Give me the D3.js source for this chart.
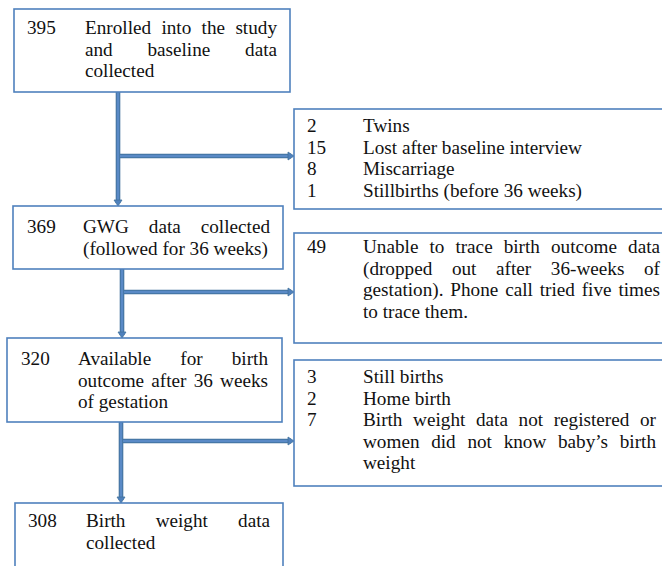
<!DOCTYPE html>
<html><head><meta charset="utf-8">
<script src="https://cdn.jsdelivr.net/npm/d3@7"></script>
<style>html,body{margin:0;padding:0;background:#fff;overflow:hidden}</style>
</head><body>
<svg id="c" width="662" height="566"></svg>
<script>
// ---- data ----
const mainCounts = [395, 369, 320, 308];
const mainLines = [
  ["Enrolled into the study", "and baseline data", "collected"],
  ["GWG data collected", "(followed for 36 weeks)"],
  ["Available for birth", "outcome after 36 weeks", "of gestation"],
  ["Birth weight data", "collected"]
];
const excl1Counts = [2, 15, 8, 1];
const excl1Labels = [["Twins"], ["Lost after baseline interview"], ["Miscarriage"], ["Stillbirths (before 36 weeks)"]];
const excl2Counts = [49];
const excl2Labels = [["Unable to trace birth outcome data", "(dropped out after 36-weeks of", "gestation). Phone call tried five times", "to trace them."]];
const excl3Counts = [3, 2, 7];
const excl3Labels = [["Still births"], ["Home birth"], ["Birth weight data not registered or", "women did not know baby\u2019s birth", "weight"]];

// ---- layout ----
const LH = 21.5;
const FONT = "'Liberation Serif','Times New Roman',serif";
const FS = 19.2;
const mainLayout = [
  {x: 14, y: 9, w: 276, h: 83, numX: 27, tx: 85, tr: 277, b0: 34},
  {x: 13, y: 206, w: 270, h: 63, numX: 27, tx: 83, tr: 270, b0: 233},
  {x: 7, y: 338, w: 275, h: 84, numX: 21, tx: 78, tr: 268, b0: 365},
  {x: 15, y: 503, w: 268, h: 90, numX: 28, tx: 86, tr: 270, b0: 527}
];
const sideLayout = [
  {x: 294, y: 109, w: 372, h: 100, numX: 307, tx: 363, tr: 660, b0: 132, counts: excl1Counts, labels: excl1Labels},
  {x: 294, y: 233, w: 372, h: 110, numX: 307, tx: 363, tr: 660, b0: 253, counts: excl2Counts, labels: excl2Labels},
  {x: 294, y: 360, w: 372, h: 126, numX: 307, tx: 363, tr: 656, b0: 383, counts: excl3Counts, labels: excl3Labels}
];
const arrows = [
  {x: 118, y0: 92, y1: 206, by: 156, bx1: 294},
  {x: 122, y0: 269, y1: 338, by: 292, bx1: 294},
  {x: 121, y0: 422, y1: 503, by: 441, bx1: 294}
];

const svg = d3.select("#c");
const BORDER = "#4f81bd";

function drawBox(l) {
  svg.append("rect").attr("x", l.x).attr("y", l.y).attr("width", l.w).attr("height", l.h)
    .attr("fill", "#fff").attr("stroke", BORDER).attr("stroke-width", 1.6);
}
function textLine(str, x0, x1, y, justify) {
  const g = svg.append("text").attr("font-family", FONT).attr("font-size", FS).attr("fill", "#111").attr("y", y);
  const words = str.split(" ");
  if (!justify || words.length < 2) {
    g.append("tspan").attr("x", x0).text(str);
    return;
  }
  const spans = words.map(w => g.append("tspan").text(w));
  const widths = spans.map(s => s.node().getComputedTextLength());
  const total = d3.sum(widths);
  const gap = (x1 - x0 - total) / (words.length - 1);
  let x = x0;
  spans.forEach((s, i) => { s.attr("x", x); x += widths[i] + gap; });
}
function drawBlock(numX, tx, tr, b, count, lines) {
  svg.append("text").attr("font-family", FONT).attr("font-size", FS).attr("fill", "#111")
    .attr("x", numX).attr("y", b).text(count);
  lines.forEach((ln, i) => {
    textLine(ln, tx, tr, b + i * LH, i < lines.length - 1);
  });
  return b + lines.length * LH;
}

function arrow(x0, y0, x1, y1) {
  const g = svg.append("g");
  const horiz = y0 === y1;
  const dir = horiz ? Math.sign(x1 - x0) : Math.sign(y1 - y0);
  const ex = horiz ? x1 - dir * 3 : x1, ey = horiz ? y1 : y1 - dir * 3;
  g.append("line").attr("x1", x0).attr("y1", y0).attr("x2", ex).attr("y2", ey)
    .attr("stroke", "#41719c").attr("stroke-width", 4.6);
  g.append("line").attr("x1", x0).attr("y1", y0).attr("x2", ex).attr("y2", ey)
    .attr("stroke", "#5a8ac6").attr("stroke-width", 2.6);
  const pts = horiz
    ? [[x1, y1], [x1 - 6 * dir, y1 - 4], [x1 - 6 * dir, y1 + 4]]
    : [[x1, y1], [x1 - 4, y1 - 6 * dir], [x1 + 4, y1 - 6 * dir]];
  g.append("polygon").attr("points", pts.map(p => p.join(",")).join(" "))
    .attr("fill", "#4f81bd").attr("stroke", "#41719c").attr("stroke-width", 0.8);
}
arrows.forEach(a => {
  arrow(a.x, a.y0, a.x, a.y1);
  arrow(a.x + 2, a.by, a.bx1, a.by);
});

mainLayout.forEach((l, i) => {
  drawBox(l);
  drawBlock(l.numX, l.tx, l.tr, l.b0, mainCounts[i], mainLines[i]);
});
sideLayout.forEach(l => {
  drawBox(l);
  let b = l.b0;
  l.counts.forEach((c, i) => {
    b = drawBlock(l.numX, l.tx, l.tr, b, c, l.labels[i]);
  });
});
</script>
</body></html>
